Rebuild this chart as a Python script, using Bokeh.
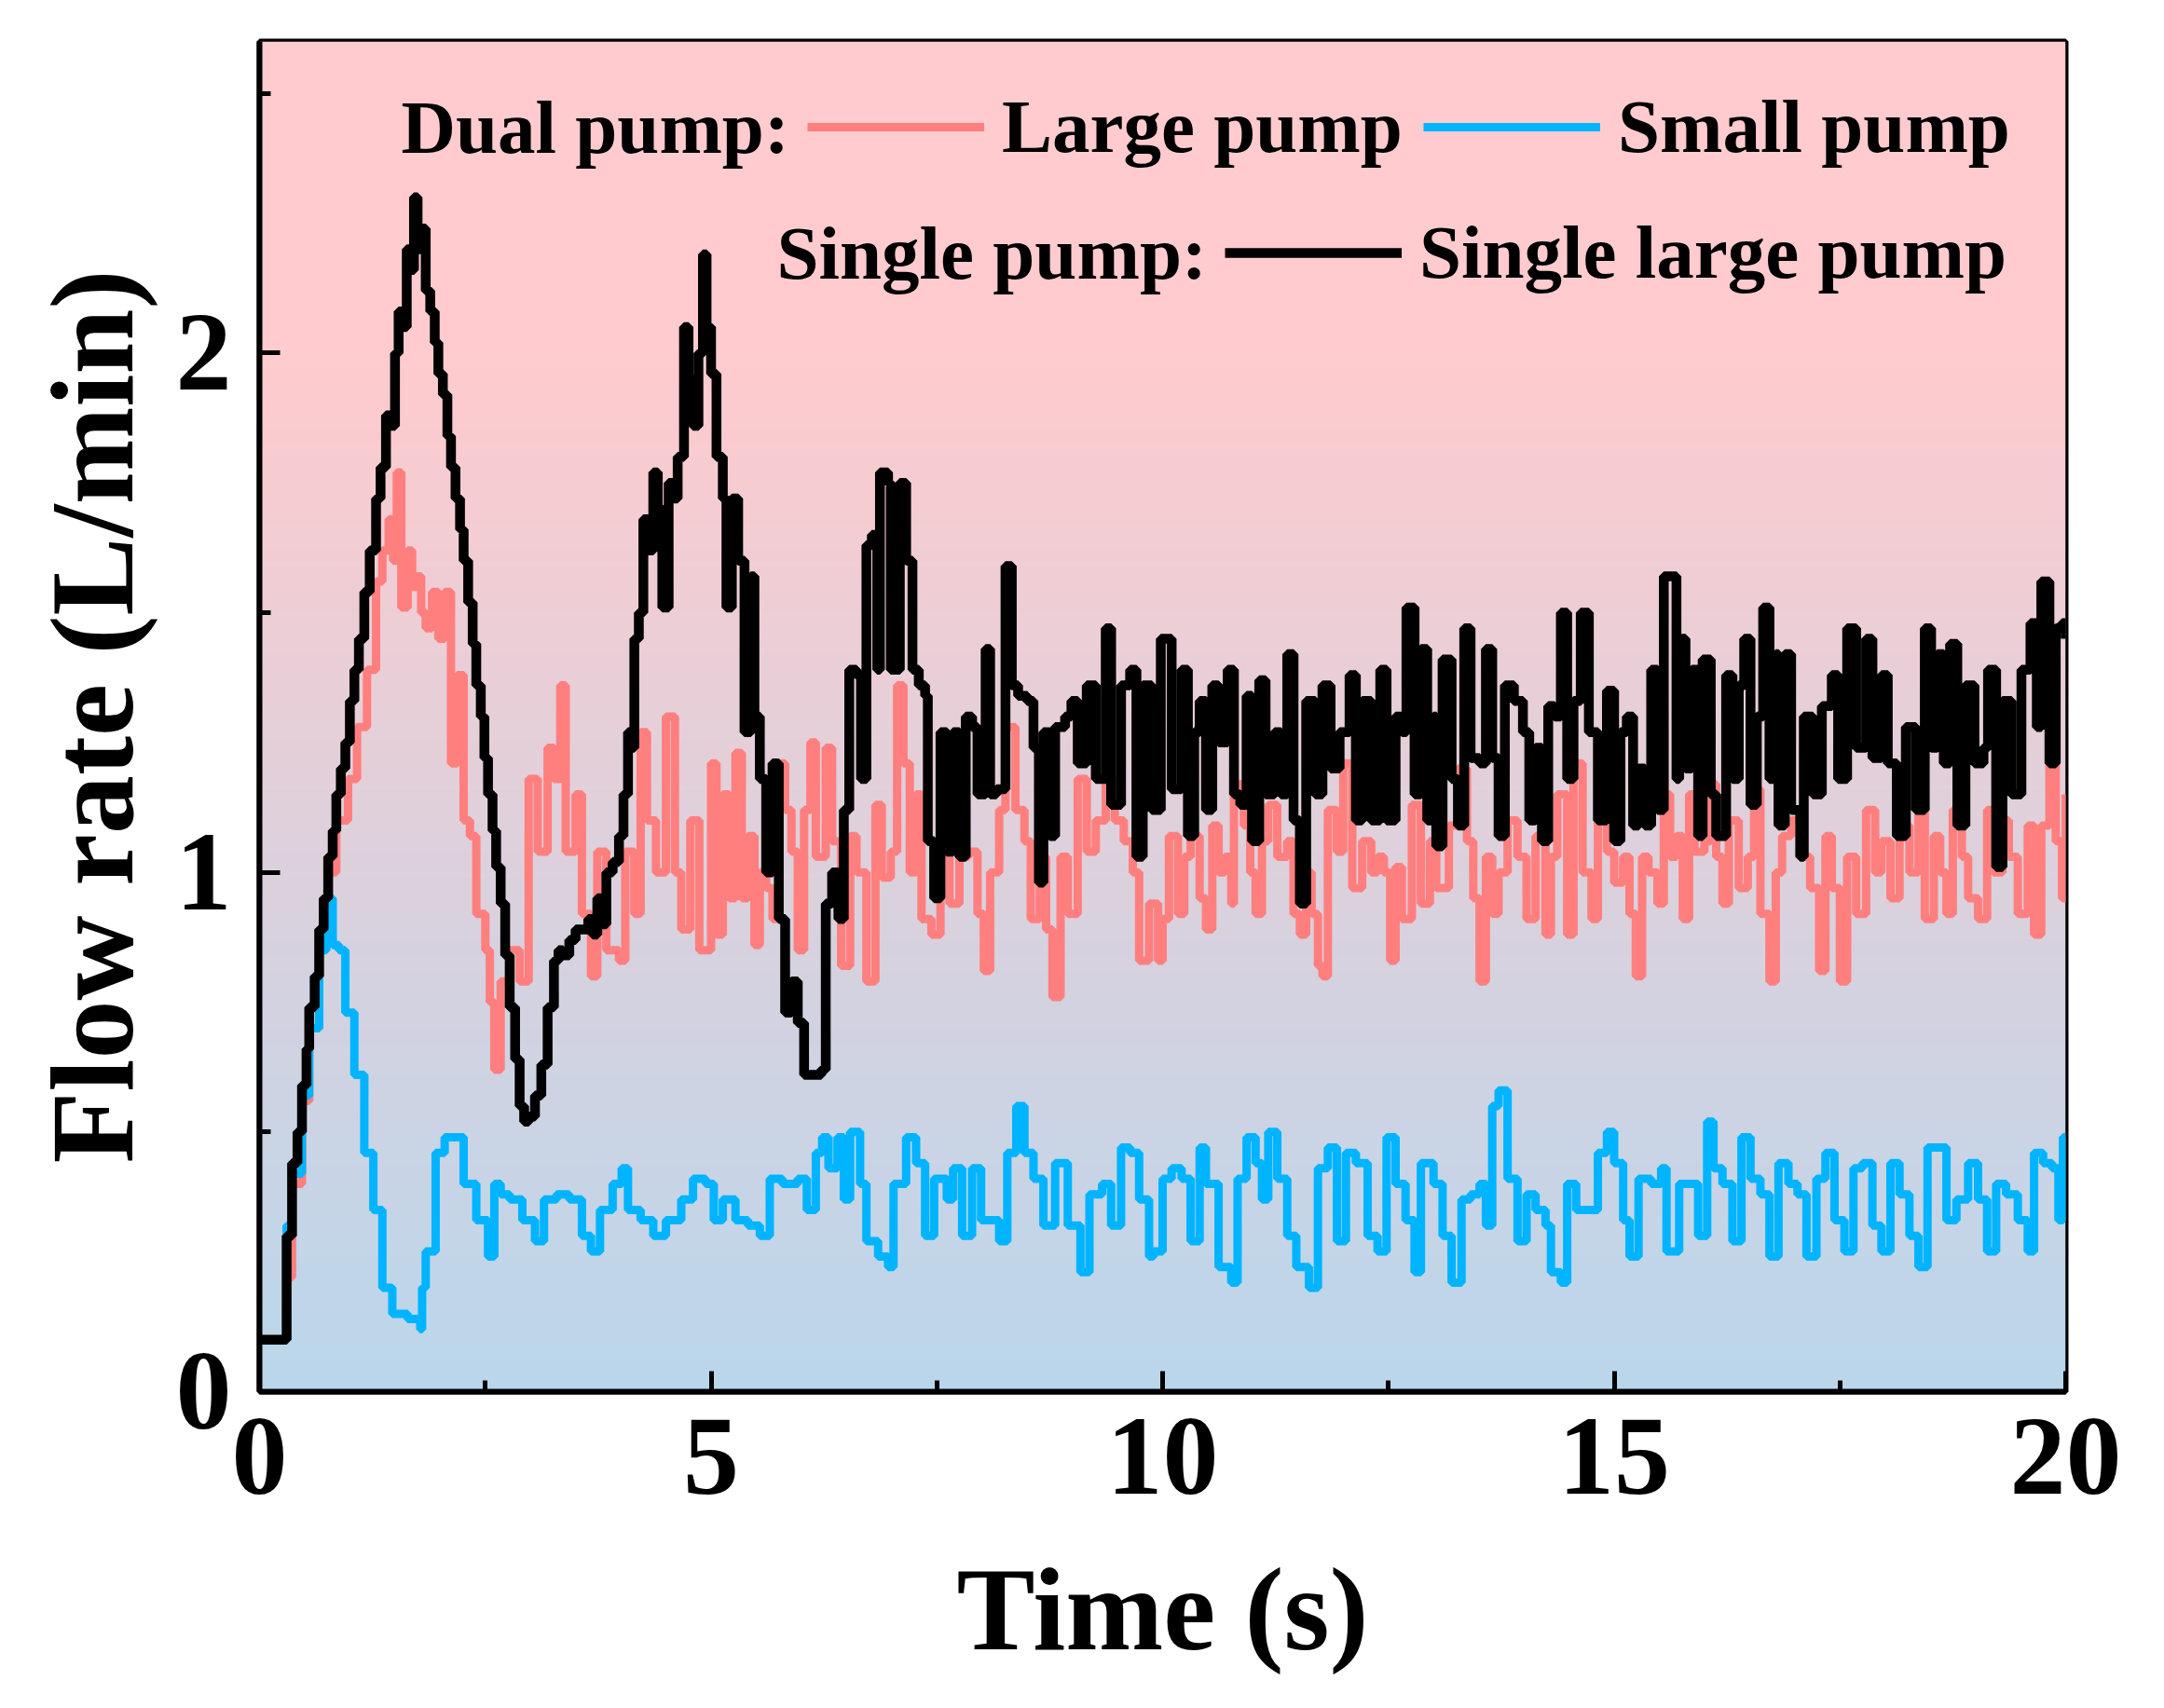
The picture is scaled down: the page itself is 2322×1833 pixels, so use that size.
import numpy as np
from bokeh.plotting import figure
from bokeh.models import (Range1d, SingleIntervalTicker, Legend, LegendItem, Label)
from bokeh.embed import file_html
from bokeh.resources import INLINE

# Single pump: single large pump
t_single = [0.00, 0.27, 0.30, 0.36, 0.42, 0.47, 0.52, 0.55, 0.61, 0.66, 0.71, 0.76, 0.81, 0.85, 0.90,
            0.95, 1.00, 1.05, 1.10, 1.16, 1.22, 1.29, 1.34, 1.40, 1.45, 1.50, 1.54, 1.58, 1.63, 1.67,
            1.71, 1.75, 1.79, 1.84, 1.89, 1.94, 1.98, 2.03, 2.08, 2.12, 2.17, 2.22, 2.26, 2.31, 2.36,
            2.40, 2.45, 2.49, 2.53, 2.58, 2.62, 2.67, 2.72, 2.77, 2.83, 2.88, 2.93, 2.98, 3.05, 3.12,
            3.19, 3.26, 3.31, 3.36, 3.43, 3.50, 3.57, 3.64, 3.69, 3.74, 3.79, 3.84, 3.91, 3.98, 4.03,
            4.08, 4.12, 4.15, 4.20, 4.25, 4.30, 4.36, 4.41, 4.46, 4.53, 4.58, 4.63, 4.70, 4.75, 4.80,
            4.86, 4.91, 4.95, 5.00, 5.06, 5.13, 5.17, 5.23, 5.30, 5.37, 5.44, 5.48, 5.54, 5.61, 5.68,
            5.75, 5.82, 5.89, 5.96, 6.03, 6.13, 6.22, 6.27, 6.34, 6.41, 6.47, 6.53, 6.61, 6.66, 6.72,
            6.78, 6.84, 6.87, 6.96, 6.99, 7.09, 7.16, 7.23, 7.30, 7.37, 7.40, 7.47, 7.54, 7.61, 7.68,
            7.75, 7.82, 7.89, 7.95, 8.04, 8.09, 8.16, 8.26, 8.33, 8.40, 8.50, 8.57, 8.63, 8.68, 8.75,
            8.81, 8.92, 8.99, 9.06, 9.16, 9.26, 9.37, 9.43, 9.54, 9.64, 9.71, 9.78, 9.88, 9.98, 10.04,
            10.10, 10.21, 10.28, 10.35, 10.41, 10.48, 10.55, 10.62, 10.72, 10.79, 10.86, 10.93, 10.99,
            11.07, 11.14, 11.24, 11.31, 11.38, 11.45, 11.52, 11.59, 11.69, 11.77, 11.86, 11.96, 12.07,
            12.14, 12.21, 12.31, 12.41, 12.48, 12.58, 12.65, 12.70, 12.79, 12.86, 12.93, 13.00, 13.03,
            13.10, 13.20, 13.27, 13.34, 13.41, 13.51, 13.58, 13.65, 13.72, 13.79, 13.89, 13.99, 14.06,
            14.13, 14.20, 14.27, 14.34, 14.41, 14.48, 14.55, 14.63, 14.72, 14.82, 14.92, 15.00, 15.07,
            15.14, 15.21, 15.27, 15.34, 15.41, 15.48, 15.55, 15.62, 15.69, 15.72, 15.79, 15.86, 15.93,
            15.98, 16.07, 16.13, 16.24, 16.31, 16.38, 16.44, 16.51, 16.58, 16.65, 16.72, 16.79, 16.82,
            16.89, 16.96, 17.06, 17.10, 17.20, 17.30, 17.41, 17.48, 17.58, 17.68, 17.79, 17.86, 17.96,
            18.03, 18.13, 18.23, 18.34, 18.44, 18.51, 18.58, 18.65, 18.72, 18.80, 18.89, 18.99, 19.09,
            19.14, 19.23, 19.30, 19.40, 19.51, 19.61, 19.68, 19.73, 19.82, 19.89, 19.96, 20.00]
q_single = [0.10, 0.10, 0.30, 0.44, 0.50, 0.59, 0.66, 0.74, 0.80, 0.89, 0.95, 1.03, 1.08, 1.15, 1.20,
            1.25, 1.33, 1.39, 1.45, 1.54, 1.62, 1.72, 1.78, 1.88, 1.86, 2.00, 2.08, 2.05, 2.20, 2.16,
            2.30, 2.20, 2.24, 2.12, 2.08, 2.02, 1.96, 1.92, 1.84, 1.78, 1.72, 1.66, 1.60, 1.52, 1.44,
            1.36, 1.30, 1.22, 1.15, 1.08, 1.01, 0.94, 0.84, 0.74, 0.64, 0.55, 0.52, 0.53, 0.57, 0.63,
            0.74, 0.83, 0.85, 0.84, 0.87, 0.89, 0.89, 0.91, 0.88, 0.95, 0.90, 1.00, 1.02, 1.07, 1.15,
            1.27, 1.24, 1.45, 1.50, 1.68, 1.62, 1.77, 1.70, 1.51, 1.75, 1.72, 1.80, 2.05, 1.95, 1.86,
            2.00, 2.19, 2.05, 1.96, 1.80, 1.72, 1.51, 1.72, 1.60, 1.27, 1.57, 1.30, 1.18, 1.00, 1.21,
            0.91, 0.73, 0.79, 0.71, 0.61, 0.61, 0.62, 0.94, 1.00, 0.91, 1.12, 1.39, 1.38, 1.18, 1.63,
            1.65, 1.39, 1.77, 1.75, 1.39, 1.75, 1.60, 1.39, 1.36, 1.34, 1.06, 0.95, 1.27, 1.04, 1.27,
            1.03, 1.30, 1.28, 1.15, 1.43, 1.15, 1.16, 1.59, 1.36, 1.34, 1.33, 1.24, 0.98, 1.27, 1.07,
            1.28, 1.30, 1.33, 1.21, 1.36, 1.18, 1.47, 1.13, 1.36, 1.39, 1.03, 1.36, 1.12, 1.45, 1.45,
            1.16, 1.39, 1.07, 1.27, 1.33, 1.12, 1.36, 1.25, 1.39, 1.15, 1.13, 1.34, 1.06,
            1.37, 1.15, 1.27, 1.15, 1.42, 1.10, 0.94, 1.33, 1.15, 1.36, 1.20, 1.27, 1.38,
            1.10, 1.33, 1.10, 1.39, 1.10, 1.30, 1.27, 1.51, 1.15, 1.43, 1.10, 1.30, 1.05,
            1.41, 1.18, 1.09, 1.47, 1.22, 1.21, 1.43, 1.22, 1.07, 1.36, 1.33, 1.27, 1.10,
            1.24, 1.06, 1.32, 1.30, 1.50, 1.18, 1.33, 1.50, 1.27, 1.10, 1.35, 1.06, 1.27,
            1.30, 1.09, 1.20, 1.09, 1.39, 1.12, 1.57, 1.57, 1.18, 1.45, 1.20, 1.39, 1.07,
            1.41, 1.15, 1.07, 1.38, 1.18, 1.36, 1.45, 1.13, 1.30, 1.51, 1.18, 1.42, 1.09,
            1.42, 1.12, 1.03, 1.30, 1.15, 1.32, 1.38, 1.18, 1.47, 1.24, 1.45, 1.22, 1.38,
            1.21, 1.07, 1.28, 1.12, 1.47, 1.24, 1.42, 1.21, 1.44, 1.09, 1.36, 1.21, 1.24,
            1.39, 1.01, 1.33, 1.15, 1.39, 1.48, 1.28, 1.56, 1.21, 1.47, 1.48, 1.45]

# Dual pump: large pump
t_large = [0.00, 0.27, 0.30, 0.36, 0.47, 0.55, 0.66, 0.76, 0.85, 0.98, 1.08, 1.19, 1.29, 1.36, 1.43,
           1.48, 1.52, 1.57, 1.64, 1.69, 1.74, 1.79, 1.84, 1.91, 1.98, 2.05, 2.12, 2.19, 2.26, 2.33,
           2.40, 2.50, 2.55, 2.60, 2.67, 2.77, 2.88, 2.95, 2.98, 3.08, 3.19, 3.26, 3.33, 3.39, 3.50,
           3.57, 3.67, 3.74, 3.84, 3.98, 4.05, 4.15, 4.22, 4.29, 4.39, 4.50, 4.60, 4.67, 4.77, 4.87,
           4.93, 5.00, 5.06, 5.13, 5.20, 5.27, 5.34, 5.41, 5.48, 5.54, 5.61, 5.68, 5.75, 5.82, 5.89,
           5.96, 6.03, 6.10, 6.16, 6.27, 6.34, 6.44, 6.54, 6.61, 6.72, 6.82, 6.89, 6.99, 7.06, 7.13,
           7.20, 7.27, 7.33, 7.44, 7.54, 7.64, 7.75, 7.85, 7.95, 8.02, 8.09, 8.19, 8.26, 8.37, 8.47,
           8.54, 8.64, 8.71, 8.78, 8.87, 8.95, 9.06, 9.16, 9.26, 9.37, 9.47, 9.57, 9.67, 9.74, 9.85,
           9.95, 10.00, 10.07, 10.17, 10.24, 10.31, 10.41, 10.48, 10.55, 10.62, 10.69, 10.76, 10.79,
           10.90, 10.97, 11.03, 11.10, 11.17, 11.27, 11.38, 11.45, 11.52, 11.59, 11.65, 11.72, 11.77,
           11.83, 11.93, 12.00, 12.10, 12.21, 12.31, 12.38, 12.45, 12.52, 12.58, 12.65, 12.76, 12.86,
           12.96, 13.03, 13.17, 13.27, 13.37, 13.44, 13.51, 13.58, 13.65, 13.72, 13.82, 13.93, 14.03,
           14.13, 14.24, 14.30, 14.37, 14.48, 14.55, 14.65, 14.75, 14.82, 14.92, 15.00, 15.10, 15.17,
           15.24, 15.31, 15.38, 15.48, 15.55, 15.62, 15.69, 15.76, 15.83, 15.89, 16.00, 16.07, 16.13,
           16.20, 16.27, 16.38, 16.48, 16.55, 16.62, 16.72, 16.79, 16.86, 16.96, 17.06, 17.17, 17.27,
           17.34, 17.41, 17.50, 17.58, 17.68, 17.79, 17.89, 17.96, 18.06, 18.16, 18.27, 18.37, 18.44,
           18.54, 18.61, 18.68, 18.75, 18.85, 18.92, 19.03, 19.13, 19.20, 19.30, 19.37, 19.47, 19.58,
           19.65, 19.73, 19.82, 19.89, 19.96, 20.00]
q_large = [0.10, 0.10, 0.22, 0.40, 0.56, 0.70, 0.86, 1.00, 1.10, 1.18, 1.28, 1.39, 1.56, 1.62, 1.68,
           1.60, 1.77, 1.51, 1.62, 1.55, 1.57, 1.50, 1.47, 1.54, 1.45, 1.54, 1.21, 1.38, 1.10, 1.07,
           0.92, 0.85, 0.75, 0.62, 0.79, 0.85, 0.79, 0.79, 1.18, 1.04, 1.24, 1.18, 1.36, 1.04, 1.15,
           0.92, 0.80, 1.04, 0.85, 0.83, 1.04, 0.92, 1.27, 1.10, 1.00, 1.30, 1.00, 0.89, 1.10, 0.85,
           0.85, 1.21, 0.88, 1.15, 0.95, 1.23, 0.95, 1.07, 0.86, 1.00, 0.97, 0.91, 1.21, 1.12, 1.04,
           0.85, 1.12, 1.25, 1.03, 1.24, 1.06, 0.82, 1.07, 1.00, 0.79, 1.13, 0.99, 1.04, 1.36, 1.21,
           1.00, 1.15, 0.91, 0.88, 1.03, 0.94, 1.03, 1.04, 0.92, 0.81, 1.00, 1.12, 1.28, 1.12, 1.06,
           0.91, 1.03, 0.89, 0.76, 1.03, 0.92, 1.18, 1.04, 1.10, 1.18, 1.10, 1.06, 1.00, 0.83, 0.94,
           0.83, 0.91, 1.07, 0.92, 1.03, 1.07, 0.95, 0.89, 1.09, 1.00, 1.03, 0.94, 1.17,
           1.09, 1.00, 0.92, 1.06, 1.13, 1.03, 1.06, 0.92, 0.88, 1.00, 0.92, 0.82, 0.80,
           1.12, 1.04, 1.21, 0.97, 1.06, 1.00, 1.03, 1.00, 0.83, 1.01, 0.91, 1.13, 0.94,
           1.06, 0.97, 1.09, 1.20, 1.06, 0.95, 0.79, 1.03, 0.92, 1.00, 1.10, 1.03, 0.91,
           1.07, 0.88, 1.03, 1.15, 0.88, 1.21, 1.00, 0.91, 1.15, 1.04, 0.98, 1.03, 0.92,
           0.80, 1.03, 1.00, 0.94, 1.15, 1.03, 1.07, 0.91, 1.15, 1.04, 1.06, 1.17, 1.03,
           0.94, 1.10, 0.97, 1.03, 1.16, 0.92, 0.79, 1.00, 1.07, 1.10, 1.03, 0.97, 0.81,
           1.07, 0.97, 0.79, 1.03, 0.92, 1.12, 1.00, 1.06, 0.95, 1.09, 1.00, 1.13, 0.91,
           1.07, 1.00, 0.92, 1.12, 1.03, 0.95, 0.91, 1.12, 1.00, 1.10, 1.03, 0.92, 1.09,
           0.88, 1.09, 1.25, 1.06, 0.95, 1.15]

# Dual pump: small pump
t_small = [0.00, 0.27, 0.30, 0.36, 0.47, 0.55, 0.66, 0.74, 0.78, 0.81, 0.88, 0.95, 1.05, 1.16, 1.26,
           1.36, 1.47, 1.64, 1.78, 1.80, 1.84, 1.95, 2.05, 2.16, 2.26, 2.40, 2.53, 2.60, 2.67, 2.77,
           2.91, 3.05, 3.15, 3.29, 3.43, 3.57, 3.67, 3.77, 3.91, 4.01, 4.08, 4.22, 4.36, 4.50, 4.67,
           4.80, 4.94, 5.03, 5.13, 5.27, 5.41, 5.54, 5.65, 5.79, 5.96, 6.06, 6.16, 6.23, 6.30, 6.40,
           6.47, 6.54, 6.65, 6.72, 6.85, 6.96, 7.02, 7.16, 7.27, 7.37, 7.47, 7.61, 7.68, 7.78, 7.89,
           7.99, 8.09, 8.19, 8.28, 8.38, 8.47, 8.57, 8.68, 8.81, 8.95, 9.09, 9.19, 9.33, 9.43, 9.54,
           9.64, 9.74, 9.85, 9.90, 10.00, 10.10, 10.21, 10.31, 10.41, 10.48, 10.62, 10.76, 10.83,
           10.93, 11.03, 11.10, 11.17, 11.27, 11.38, 11.48, 11.62, 11.72, 11.83, 11.93, 12.03, 12.14,
           12.27, 12.38, 12.48, 12.58, 12.69, 12.79, 12.86, 13.00, 13.10, 13.20, 13.31, 13.41, 13.51,
           13.58, 13.65, 13.72, 13.82, 13.93, 14.03, 14.13, 14.24, 14.30, 14.41, 14.48, 14.58, 14.72,
           14.82, 14.92, 15.00, 15.10, 15.17, 15.27, 15.41, 15.52, 15.58, 15.72, 15.83, 15.93, 16.03,
           16.10, 16.20, 16.31, 16.41, 16.51, 16.62, 16.72, 16.82, 16.93, 17.03, 17.13, 17.24, 17.34,
           17.44, 17.55, 17.65, 17.75, 17.86, 17.96, 18.06, 18.16, 18.27, 18.37, 18.47, 18.58, 18.68,
           18.79, 18.92, 19.03, 19.13, 19.23, 19.34, 19.47, 19.58, 19.65, 19.75, 19.85, 19.92, 19.97,
           20.00]
q_small = [0.10, 0.10, 0.32, 0.42, 0.57, 0.70, 0.85, 0.94, 0.95, 0.86, 0.85, 0.73, 0.61, 0.46, 0.35,
           0.20, 0.15, 0.14, 0.12, 0.20, 0.27, 0.46, 0.49, 0.49, 0.40, 0.33, 0.26, 0.40, 0.38, 0.37,
           0.33, 0.29, 0.37, 0.38, 0.37, 0.30, 0.27, 0.35, 0.40, 0.43, 0.35, 0.33, 0.30, 0.33, 0.37,
           0.41, 0.40, 0.33, 0.37, 0.33, 0.32, 0.30, 0.41, 0.40, 0.41, 0.35, 0.46, 0.49, 0.43, 0.49,
           0.37, 0.50, 0.40, 0.29, 0.26, 0.24, 0.40, 0.49, 0.44, 0.30, 0.41, 0.37, 0.43, 0.30, 0.43,
           0.33, 0.33, 0.29, 0.46, 0.55, 0.46, 0.41, 0.32, 0.44, 0.32, 0.23, 0.38, 0.40, 0.32, 0.47,
           0.46, 0.37, 0.26, 0.27, 0.41, 0.43, 0.41, 0.29, 0.47, 0.40, 0.24, 0.21, 0.41,
           0.49, 0.44, 0.37, 0.50, 0.41, 0.30, 0.24, 0.20, 0.43, 0.47, 0.29, 0.46, 0.44,
           0.30, 0.27, 0.49, 0.40, 0.33, 0.23, 0.44, 0.40, 0.30, 0.21, 0.37, 0.38, 0.40,
           0.32, 0.55, 0.58, 0.41, 0.29, 0.38, 0.35, 0.32, 0.23, 0.21, 0.40, 0.35, 0.35,
           0.46, 0.50, 0.44, 0.33, 0.26, 0.41, 0.40, 0.43, 0.27, 0.40, 0.40, 0.30, 0.52,
           0.43, 0.40, 0.29, 0.49, 0.41, 0.38, 0.26, 0.44, 0.40, 0.38, 0.26, 0.41, 0.46,
           0.33, 0.27, 0.43, 0.44, 0.32, 0.27, 0.44, 0.38, 0.30, 0.24, 0.47, 0.47, 0.33,
           0.37, 0.44, 0.37, 0.27, 0.40, 0.38, 0.33, 0.27, 0.46, 0.44, 0.43, 0.33, 0.49,
           0.49]

x_ticks_interval = 5
y_ticks_interval = 1
X_MAX = 20
Y_MAX = 2.6

FONT = "Liberation Serif"

p = figure(output_backend="svg", toolbar_location=None,
           frame_width=1938, frame_height=1449,
           min_border_left=278, min_border_top=44, min_border_right=80, min_border_bottom=40,
           x_range=Range1d(0, X_MAX), y_range=Range1d(0, Y_MAX),
           background_fill_color="white", border_fill_color="white")

# vertical pink-to-blue background gradient
n = 260
yy = np.linspace(0, Y_MAX, n)
f = np.clip(yy / 2.0, 0, 1)
top = np.array([0xFF, 0xCB, 0xCE])
bot = np.array([0xBA, 0xD7, 0xEC])
rgb = (bot[None, :] * (1 - f[:, None]) + top[None, :] * f[:, None]).astype(np.uint8)
img = np.empty((n, 1), dtype=np.uint32)
view = img.view(dtype=np.uint8).reshape((n, 1, 4))
view[:, 0, 0] = rgb[:, 0]
view[:, 0, 1] = rgb[:, 1]
view[:, 0, 2] = rgb[:, 2]
view[:, 0, 3] = 255
p.image_rgba(image=[img], x=0, y=0, dw=X_MAX, dh=Y_MAX)

r_large = p.step(t_large, q_large, mode="after", line_color="#FF7F7F", line_width=9)
r_small = p.step(t_small, q_small, mode="after", line_color="#00B4FF", line_width=9)
r_single = p.step(t_single, q_single, mode="after", line_color="black", line_width=10.5)

p.xgrid.visible = False
p.ygrid.visible = False
p.outline_line_color = "black"
p.outline_line_width = 6

p.xaxis.ticker = SingleIntervalTicker(interval=x_ticks_interval, num_minor_ticks=2)
p.yaxis.ticker = SingleIntervalTicker(interval=y_ticks_interval, num_minor_ticks=2)
for ax in (p.xaxis, p.yaxis):
    ax.axis_line_width = 6
    ax.major_tick_in = 22
    ax.major_tick_out = 0
    ax.minor_tick_in = 12
    ax.minor_tick_out = 0
    ax.major_tick_line_width = 5
    ax.minor_tick_line_width = 5
    ax.major_label_text_font = FONT
    ax.major_label_text_font_style = "bold"
    ax.major_label_text_font_size = "120px"
    ax.major_label_text_color = "black"
    ax.axis_label_text_font = FONT
    ax.axis_label_text_font_style = "bold"
    ax.axis_label_text_font_size = "126px"
    ax.axis_label_text_color = "black"

p.xaxis.axis_label = "Time (s)"
p.yaxis.axis_label = "Flow rate (L/min)"
p.xaxis.major_label_standoff = 30
p.yaxis.major_label_standoff = 30
p.xaxis.axis_label_standoff = 52
p.yaxis.axis_label_standoff = 17

# legend rows
def one_item(label, renderer, loc):
    lg = Legend(items=[LegendItem(label=label, renderers=[renderer])], location=loc,
                glyph_width=190, glyph_height=110, label_height=110, label_standoff=19,
                padding=0, margin=0, spacing=0, border_line_color=None,
                background_fill_alpha=0, label_text_font=FONT, label_text_font_style="bold",
                label_text_font_size="81px", label_text_color="black")
    p.add_layout(lg)

one_item("Large pump", r_large, (588, 1302))
one_item("Small pump", r_small, (1249, 1302))
one_item("Single large pump", r_single, (1036, 1167))

for txt, x, y in (("Dual pump:", 152, 1357), ("Single pump:", 555, 1222)):
    p.add_layout(Label(x=x, y=y, x_units="screen", y_units="screen", text=txt,
                       text_font=FONT, text_font_style="bold", text_font_size="81px",
                       text_baseline="middle", text_color="black"))

open("out.html", "w").write(file_html(p, INLINE))
